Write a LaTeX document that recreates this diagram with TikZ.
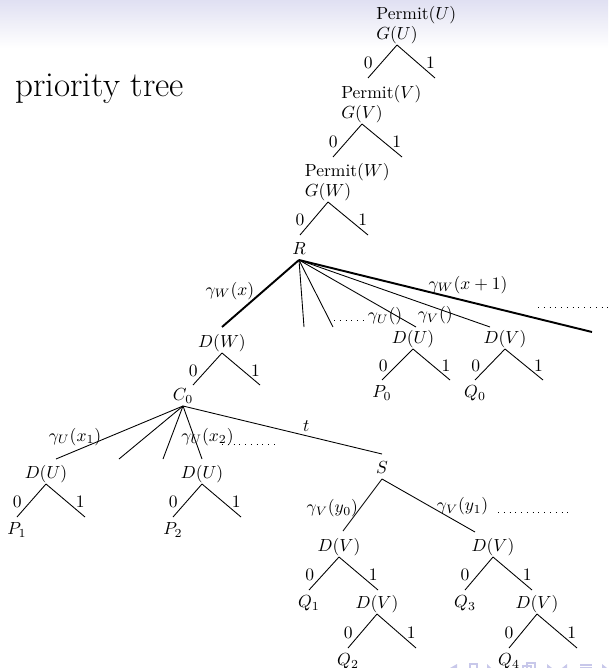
\documentclass[tikz,border=0pt]{standalone}
\usetikzlibrary{positioning}
\definecolor{headtop}{RGB}{224,224,242}
\definecolor{navblue}{RGB}{200,200,234}

\begin{document}
\begin{tikzpicture}[
  x=0.571pt, y=-0.571pt,
  tn/.style={inner sep=0.5pt,text height=7.5pt,text depth=2.5pt},
  leaf/.style={tn,anchor=north,inner ysep=2.4pt},
  bit0/.style={pos=0.55,left=3.5pt,inner sep=1pt},
  bit1/.style={pos=0.55,right=3.5pt,inner sep=1pt},
  lab/.style={inner sep=1pt},
  br/.style={line width=0.5pt},
  bigbr/.style={line width=1.1pt},
  more/.style={line width=0.5pt,dash pattern=on 0.5pt off 2.8pt}
]
\useasboundingbox (0,0) rectangle (608,668);
\shade[top color=headtop,bottom color=white] (0,0) rectangle (608,48);

\node[anchor=base west,inner sep=0pt,font=\fontsize{20}{24}\selectfont] (title) at (15,97) {priority tree};

% permit chain
\node[tn,anchor=south] (gu) at (397,45) {$G(U)$};
\node[tn,above right=0pt and 0pt of gu.north west] (pu) {Permit$(U)$};
\coordinate (uL) at (368,78);
\coordinate (uR) at (435,78);
\draw[br] (gu.south) -- node[bit0]{0} (uL);
\draw[br] (gu.south) -- node[bit1]{1} (uR);

\node[tn,anchor=south] (gv) at (362,124) {$G(V)$};
\node[tn,above right=0pt and 0pt of gv.north west] (pv) {Permit$(V)$};
\coordinate (vL) at (333,157);
\coordinate (vR) at (402,157);
\draw[br] (gv.south) -- node[bit0]{0} (vL);
\draw[br] (gv.south) -- node[bit1]{1} (vR);

\node[tn,anchor=south] (gw) at (328,202) {$G(W)$};
\node[tn,above right=0pt and 0pt of gw.north west] (pw) {Permit$(W)$};
\coordinate (wL) at (300,235);
\coordinate (wR) at (368,235);
\draw[br] (gw.south) -- node[bit0]{0} (wL);
\draw[br] (gw.south) -- node[bit1]{1} (wR);

% root R
\node[tn,anchor=south] (r) at (299,260) {$R$};
\coordinate (eW) at (222,327);
\coordinate (e1) at (304,327);
\coordinate (e2) at (333,327);
\coordinate (eDU) at (416,327);
\coordinate (eDV) at (490,327);
\coordinate (eX) at (592,332);
\draw[bigbr] (r.south) -- node[lab,pos=0.46,left=3.8pt]{$\gamma_W(x)$} (eW);
\draw[br] (r.south) -- (e1);
\draw[br] (r.south) -- (e2);
\draw[br] (r.south) -- node[lab,pos=0.84,xshift=-7pt]{$\gamma_U()$} (eDU);
\draw[br] (r.south) -- node[lab,pos=0.83,left=1.5pt]{$\gamma_V()$} (eDV);
\draw[bigbr] (r.south) -- node[lab,pos=0.577,above=3pt]{$\gamma_W(x+1)$} (eX);
\coordinate (m1a) at (334,320);
\coordinate (m1b) at (367,320);
\draw[more] (m1a) -- (m1b);
\coordinate (m2a) at (538,307);
\coordinate (m2b) at (608,307);
\draw[more] (m2a) -- (m2b);

\node[tn,anchor=south] (du0) at (413,349) {$D(U)$};
\node[leaf] (p0) at (382,380) {$P_0$};
\coordinate (du0R) at (450,380);
\draw[br] (du0.south) -- node[bit0]{0} (p0.north);
\draw[br] (du0.south) -- node[bit1]{1} (du0R);

\node[tn,anchor=south] (dv0) at (505,349) {$D(V)$};
\node[leaf] (q0) at (475,380) {$Q_0$};
\coordinate (dv0R) at (543,380);
\draw[br] (dv0.south) -- node[bit0]{0} (q0.north);
\draw[br] (dv0.south) -- node[bit1]{1} (dv0R);

% D(W) and C_0
\node[tn,anchor=south] (dw) at (222,353) {$D(W)$};
\coordinate (dwL) at (193,385);
\coordinate (dwR) at (260,385);
\draw[br] (dw.south) -- node[bit0]{0} (dwL);
\draw[br] (dw.south) -- node[bit1]{1} (dwR);

\node[tn,anchor=south] (c0) at (183,406) {$C_0$};
\coordinate (c1) at (56,459);
\coordinate (c2) at (119,459);
\coordinate (c3) at (163,459);
\coordinate (c4) at (202,459);
\coordinate (eS) at (382,454);
\draw[br] (c0.south) -- node[lab,pos=0.58,left=3.4pt]{$\gamma_U(x_1)$} (c1);
\draw[br] (c0.south) -- (c2);
\draw[br] (c0.south) -- (c3);
\draw[br] (c0.south) -- node[lab,pos=0.58,xshift=7.7pt]{$\gamma_U(x_2)$} (c4);
\draw[br] (c0.south) -- node[lab,pos=0.62,above=1pt]{$t$} (eS);
\coordinate (m3a) at (222,444);
\coordinate (m3b) at (277,444);
\draw[more] (m3a) -- (m3b);

\node[tn,anchor=south] (du1) at (46,484) {$D(U)$};
\node[leaf] (p1) at (17,517) {$P_1$};
\coordinate (du1R) at (85,517);
\draw[br] (du1.south) -- node[bit0]{0} (p1.north);
\draw[br] (du1.south) -- node[bit1]{1} (du1R);

\node[tn,anchor=south] (du2) at (202,484) {$D(U)$};
\node[leaf] (p2) at (173,517) {$P_2$};
\coordinate (du2R) at (241,517);
\draw[br] (du2.south) -- node[bit0]{0} (p2.north);
\draw[br] (du2.south) -- node[bit1]{1} (du2R);

% S subtree
\node[tn,anchor=south] (s) at (382,479) {$S$};
\coordinate (eV1) at (343,531);
\coordinate (eV2) at (475,532);
\draw[br] (s.south) -- node[lab,pos=0.56,left=0pt]{$\gamma_V(y_0)$} (eV1);
\draw[br] (s.south) -- node[lab,pos=0.52,right=2.5pt]{$\gamma_V(y_1)$} (eV2);
\coordinate (m4a) at (498,512);
\coordinate (m4b) at (573,512);
\draw[more] (m4a) -- (m4b);

\node[tn,anchor=south] (dv1) at (339,557) {$D(V)$};
\node[leaf] (q1) at (309,590) {$Q_1$};
\coordinate (dv1R) at (378,590);
\draw[br] (dv1.south) -- node[bit0]{0} (q1.north);
\draw[br] (dv1.south) -- node[bit1]{1} (dv1R);

\node[tn,anchor=south] (dv2) at (377,614) {$D(V)$};
\node[leaf] (q2) at (348,648) {$Q_2$};
\coordinate (dv2R) at (416,648);
\draw[br] (dv2.south) -- node[bit0]{0} (q2.north);
\draw[br] (dv2.south) -- node[bit1]{1} (dv2R);

\node[tn,anchor=south] (dv3) at (493,557) {$D(V)$};
\node[leaf] (q3) at (465,590) {$Q_3$};
\coordinate (dv3R) at (532,590);
\draw[br] (dv3.south) -- node[bit0]{0} (q3.north);
\draw[br] (dv3.south) -- node[bit1]{1} (dv3R);

\node[tn,anchor=south] (dv4) at (537,614) {$D(V)$};
\node[leaf] (q4) at (509,648) {$Q_4$};
\coordinate (dv4R) at (577,648);
\draw[br] (dv4.south) -- node[bit0]{0} (q4.north);
\draw[br] (dv4.south) -- node[bit1]{1} (dv4R);

% navigation symbols, cut by the page edge
\begin{scope}
\clip (0,0) rectangle (608,668);
\fill[navblue] (450,668) -- (457,664) -- (457,672) -- cycle;
\draw[navblue,line width=0.8pt] (470,664) rectangle (477,672);
\fill[navblue] (487,664) -- (491,668) -- (487,672) -- cycle;
\draw[navblue,line width=0.8pt] (523,666) rectangle (531,674) (527,663) rectangle (535,671);
\fill[navblue] (547,664) -- (552,668) -- (547,672) -- cycle;
\fill[navblue] (562,668) -- (567,664) -- (567,672) -- cycle;
\draw[navblue,line width=0.8pt] (580,665) -- (592,665) (580,668) -- (592,668);
\fill[navblue] (602,664) -- (607,668) -- (602,672) -- cycle;
\end{scope}
\end{tikzpicture}
\end{document}
